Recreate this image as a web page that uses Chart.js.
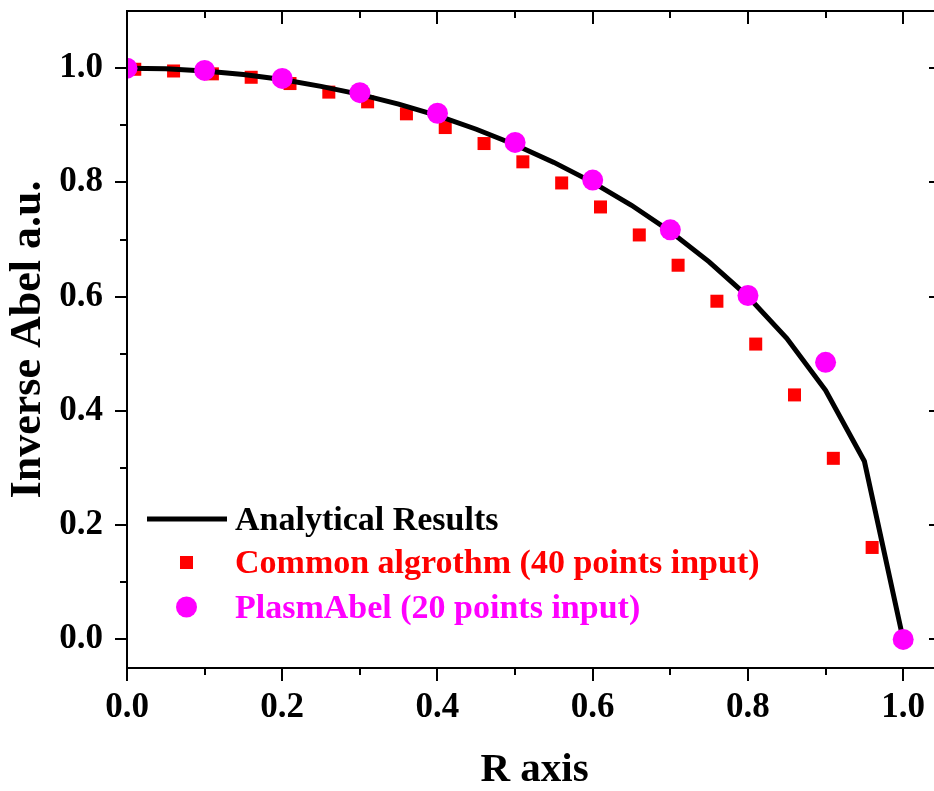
<!DOCTYPE html>
<html>
<head>
<meta charset="utf-8">
<script src="https://cdn.jsdelivr.net/npm/chart.js@4"></script>
<style>
  html, body { margin: 0; padding: 0; background: #fff; }
  #wrap { width: 934px; height: 791px; }
</style>
</head>
<body>
<div id="wrap"><canvas id="abelChart" width="934" height="791"></canvas></div>
<script>
// Data
const analyticR = [0, 0.05, 0.1, 0.15, 0.2, 0.25, 0.3, 0.35, 0.4, 0.45, 0.5, 0.55, 0.6, 0.65, 0.7, 0.75, 0.8, 0.85, 0.9, 0.95, 1.0];
const analyticI = [1.000, 0.999, 0.995, 0.989, 0.980, 0.968, 0.954, 0.937, 0.917, 0.893, 0.866, 0.835, 0.800, 0.760, 0.714, 0.661, 0.600, 0.527, 0.436, 0.312, 0.000];

const commonR = [0.01, 0.06, 0.11, 0.16, 0.21, 0.26, 0.31, 0.36, 0.41, 0.46, 0.51, 0.56, 0.61, 0.66, 0.71, 0.76, 0.81, 0.86, 0.91, 0.96];
const commonI = [0.998, 0.995, 0.990, 0.984, 0.973, 0.958, 0.941, 0.920, 0.896, 0.868, 0.836, 0.799, 0.757, 0.708, 0.655, 0.592, 0.517, 0.428, 0.317, 0.161];

const plasmR = [0, 0.1, 0.2, 0.3, 0.4, 0.5, 0.6, 0.7, 0.8, 0.9, 1.0];
const plasmI = [1.000, 0.996, 0.982, 0.957, 0.921, 0.870, 0.804, 0.717, 0.602, 0.485, 0.000];

const xTicks = [0, 0.2, 0.4, 0.6, 0.8, 1.0];
const yTicks = [0, 0.2, 0.4, 0.6, 0.8, 1.0];

const legendLabels = ['Analytical Results', 'Common algrothm (40 points input)', 'PlasmAbel (20 points input)'];

// Helpers
const serif = '"Liberation Serif", "Times New Roman", serif';
const toPts = (xs, ys) => xs.map((x, i) => ({ x, y: ys[i] }));
const noPad = (s) => { s.paddingTop = 0; s.paddingBottom = 0; s.paddingLeft = 0; s.paddingRight = 0; };

// the plot frame runs a little past the right edge of the picture
const extendRight = {
  id: 'extendRight',
  afterLayout(chart) {
    const right = chart.width + 8;
    const x = chart.scales.x;
    chart.chartArea.right = right;
    chart.chartArea.width = right - chart.chartArea.left;
    x.right = right;
    x.width = right - x.left;
    x.configure();
  }
};

// Origin-style frame with major/minor ticks on all four sides
const frameTicks = {
  id: 'frameTicks',
  afterDraw(chart) {
    const { ctx, chartArea: a, scales: { x, y } } = chart;
    ctx.save();
    ctx.strokeStyle = '#000';
    ctx.lineWidth = 2;
    ctx.lineCap = 'butt';
    ctx.strokeRect(a.left, a.top, a.right - a.left, a.bottom - a.top);

    const mids = (t) => t.slice(1).map((v, i) => (v + t[i]) / 2);
    ctx.beginPath();
    xTicks.forEach(v => {
      const px = Math.round(x.getPixelForValue(v));
      ctx.moveTo(px, a.bottom); ctx.lineTo(px, a.bottom + 13);
      ctx.moveTo(px, a.top); ctx.lineTo(px, a.top + 13);
    });
    mids(xTicks).forEach(v => {
      const px = Math.round(x.getPixelForValue(v));
      ctx.moveTo(px, a.bottom); ctx.lineTo(px, a.bottom + 7);
      ctx.moveTo(px, a.top); ctx.lineTo(px, a.top + 7);
    });
    yTicks.forEach(v => {
      const py = Math.round(y.getPixelForValue(v));
      ctx.moveTo(a.left, py); ctx.lineTo(a.left - 12, py);
      ctx.moveTo(a.right, py); ctx.lineTo(a.right - 13, py);
    });
    mids(yTicks).forEach(v => {
      const py = Math.round(y.getPixelForValue(v));
      ctx.moveTo(a.left, py); ctx.lineTo(a.left - 7, py);
      ctx.moveTo(a.right, py); ctx.lineTo(a.right - 7, py);
    });
    ctx.stroke();
    ctx.restore();
  }
};

// Legend inside the plot, lower left
const insideLegend = {
  id: 'insideLegend',
  afterDraw(chart) {
    const { ctx, chartArea: a } = chart;
    const ds = chart.data.datasets;
    const line = ds.find(d => d.id === 'analytic');
    const sq = ds.find(d => d.id === 'common');
    const dot = ds.find(d => d.id === 'plasm');
    const x0 = a.left + 20, x1 = a.left + 100, mx = a.left + 59.5, tx = a.left + 108;
    const rows = [a.top + 508, a.top + 551.5, a.top + 596];

    ctx.save();
    ctx.strokeStyle = line.borderColor;
    ctx.lineWidth = line.borderWidth;
    ctx.beginPath();
    ctx.moveTo(x0, rows[0]); ctx.lineTo(x1, rows[0]);
    ctx.stroke();

    ctx.fillStyle = sq.backgroundColor;
    const s = sq.pointRadius * Math.SQRT1_2;
    ctx.fillRect(mx - s, rows[1] - s, 2 * s, 2 * s);

    ctx.fillStyle = dot.backgroundColor;
    ctx.beginPath();
    ctx.arc(mx, rows[2], dot.pointRadius, 0, Math.PI * 2);
    ctx.fill();

    ctx.font = 'bold 34px ' + serif;
    ctx.textBaseline = 'middle';
    ctx.textAlign = 'left';
    const colors = ['#000', sq.backgroundColor, dot.backgroundColor];
    legendLabels.forEach((t, i) => {
      ctx.fillStyle = colors[i];
      ctx.fillText(t, tx, rows[i] + 2);
    });
    ctx.restore();
  }
};

Chart.defaults.font.family = serif;
Chart.defaults.font.weight = 'bold';
Chart.defaults.color = '#000';

const abelChart = new Chart(document.getElementById('abelChart'), {
  type: 'scatter',
  data: {
    datasets: [
      {
        id: 'plasm', label: legendLabels[2], data: toPts(plasmR, plasmI),
        showLine: false, pointStyle: 'circle', pointRadius: 10.5, pointBorderWidth: 0,
        backgroundColor: '#FF00FF', borderColor: '#FF00FF', clip: 0
      },
      {
        id: 'analytic', label: legendLabels[0], data: toPts(analyticR, analyticI),
        showLine: true, tension: 0, pointRadius: 0, borderWidth: 5,
        borderColor: '#000', backgroundColor: '#000', clip: 0
      },
      {
        id: 'common', label: legendLabels[1], data: toPts(commonR, commonI),
        showLine: false, pointStyle: 'rect', pointRadius: 9.2, pointBorderWidth: 0,
        backgroundColor: '#FF0000', borderColor: '#FF0000', clip: 0
      }
    ]
  },
  options: {
    responsive: false,
    animation: false,
    events: [],
    layout: { padding: { top: 11, right: 0, left: 0, bottom: 0 } },
    plugins: { legend: { display: false }, tooltip: { enabled: false } },
    scales: {
      x: {
        type: 'linear', min: 0, max: 1.05,
        afterFit: s => { s.height = 123; noPad(s); },
        afterBuildTicks: s => { s.ticks = xTicks.map(v => ({ value: v })); },
        grid: { display: false, drawTicks: false },
        border: { display: false },
        ticks: { padding: 19, font: { size: 35, weight: 'bold' }, callback: v => v.toFixed(1) },
        title: { display: true, text: 'R axis', font: { size: 41, weight: 'bold', lineHeight: 1 }, padding: { top: 0, bottom: 0 } }
      },
      y: {
        type: 'linear', min: -0.05, max: 1.1,
        afterFit: s => { s.width = 127; noPad(s); },
        afterBuildTicks: s => { s.ticks = yTicks.map(v => ({ value: v })); },
        grid: { display: false, drawTicks: false },
        border: { display: false },
        ticks: { padding: 24, font: { size: 35, weight: 'bold' }, callback: v => v.toFixed(1) },
        title: { display: true, text: 'Inverse Abel a.u.', font: { size: 44, weight: 'bold', lineHeight: 1 }, padding: { top: 7, bottom: 0 } }
      }
    }
  },
  plugins: [extendRight, frameTicks, insideLegend]
});
</script>
</body>
</html>
